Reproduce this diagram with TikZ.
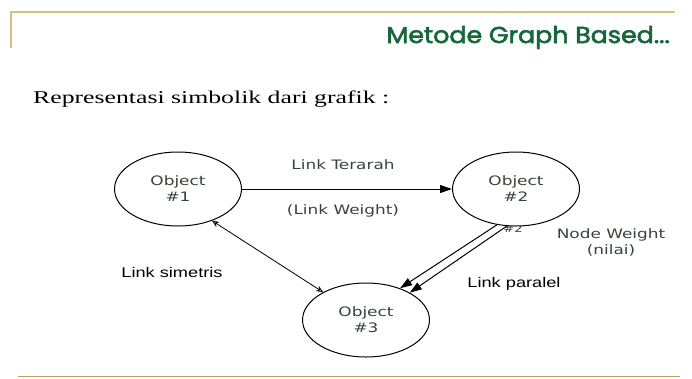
\documentclass[tikz,border=0pt]{standalone}
\usepackage{fontspec}
\setmainfont{Liberation Serif}
\newfontfamily\bodyserif[FakeStretch=1.43]{Liberation Serif}
\newfontfamily\labelfont[FakeStretch=1.3]{DejaVu Sans}
\newfontfamily\notefont[FakeStretch=1.3]{Liberation Sans}
\newfontfamily\titlefont[FakeBold=2.6,FakeStretch=1.1]{Poppins}
\usetikzlibrary{shapes.geometric,arrows.meta}
\definecolor{rulegold}{HTML}{D2C27C}
\definecolor{rulegoldd}{HTML}{B9A05E}
\definecolor{titlegreen}{HTML}{16673A}
\definecolor{labelgray}{HTML}{3A423B}
\tikzset{
  obj/.style={ellipse, draw, line width=1pt, fill=white, inner sep=0pt,
    minimum width=127pt, minimum height=74pt, text=labelgray,
    font=\labelfont\fontsize{13}{16}\selectfont, align=center},
  lbl/.style={text=labelgray, font=\labelfont\fontsize{13}{16}\selectfont, align=center, inner sep=0pt},
  note/.style={text=black, font=\notefont\fontsize{14}{16}\selectfont, inner sep=0pt},
  link/.style={line width=1pt},
  solidhead/.style={-{Triangle[length=12pt,width=8pt]}},
  openhead/.style={{Stealth[open,length=7pt,width=6pt]}-{Stealth[open,length=7pt,width=6pt]}, line width=0.8pt}
}
\begin{document}
\begin{tikzpicture}[x=1pt,y=-1pt]
  \useasboundingbox (0,0) rectangle (692,378);
  % page frame rules
  \coordinate (tl) at (11,12);
  \coordinate (tr) at (675,12);
  \coordinate (lb) at (11,48);
  \draw[rulegold, line width=1.5pt] (lb) -- (tl) -- (tr);
  \coordinate (bl) at (18,376.5);
  \coordinate (br) at (680,376.5);
  \draw[rulegoldd, line width=1.5pt] (bl) -- (br);
  % heading
  \node[anchor=base east, text=titlegreen, inner sep=0pt,
        font=\titlefont\fontsize{23}{26}\selectfont] (title) at (670,43) {Metode Graph Based...};
  \node[anchor=base west, inner sep=0pt, font=\bodyserif\fontsize{18}{20}\selectfont] (intro) at (33,103)
    {Representasi simbolik dari grafik :};
  % partly hidden weight tag under object 2
  \node[lbl, font=\labelfont\fontsize{10}{12}\selectfont] (tag) at (513,229) {\#2};
  % objects
  \node[obj] (o1) at (178,189) {Object\\\#1};
  \node[obj] (o2) at (516,189) {Object\\\#2};
  \node[obj] (o3) at (366,320) {Object\\\#3};
  % links
  \draw[link, solidhead] (o1) -- (o2);
  \draw[openhead] (o1.-43) -- (o3.147);
  \draw[link, solidhead] (o2.-118) -- (o3.43);
  \draw[link, solidhead] (o2.-104) -- (o3.32);
  % labels
  \node[lbl] (lt) at (343,165) {Link Terarah};
  \node[lbl] (lw) at (343,211) {(Link Weight)};
  \node[lbl] (nw) at (611,242) {Node Weight\\(nilai)};
  \node[note] (ls) at (172,272) {Link simetris};
  \node[note] (lp) at (514,284) {Link paralel};
\end{tikzpicture}
\end{document}
